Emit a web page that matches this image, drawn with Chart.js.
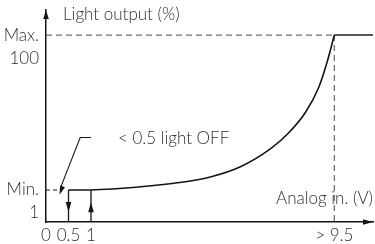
<!DOCTYPE html>
<html>
<head>
<meta charset="utf-8">
<script src="https://cdn.jsdelivr.net/npm/chart.js@4.4.0/dist/chart.umd.min.js"></script>
<style>
html, body { margin: 0; padding: 0; background: #fff; }
#wrap { width: 375px; height: 244px; }
</style>
</head>
<body>
<div id="wrap"><canvas id="chartLuz"></canvas></div>
<script>
// dimming curve: analog input (V) -> light output (%)
var analogVolts = [1, 2, 3.1, 4.3, 5.2, 6.2, 7.3, 7.9, 8.5, 8.96, 9.24, 9.5];
var lightPct = [1, 2, 3.7, 6.3, 9.5, 15.7, 27.8, 37.4, 50.8, 66.8, 82.3, 100];
var xTicks = [0, 0.5, 1, 9.5];
var xTickLabels = ['0', '0.5', '1', '> 9.5'];
var yTicks = [1, 100];
var yTickLabels = [['Min.', '1'], ['Max.', '100']];
var offLimit = 0.5;   // below this the light is off
var onStart = 1;      // curve starts here at min light
var fullOn = 9.5;     // max light from here on
var minLight = 1;
var maxLight = 100;
var xMax = 10.85;
var yMax = 116;

var FONT = 'Lato';
var FSIZE = 17;
var TEXT = '#2e2e2e';
var INK = '#151515';
var DASH = '#707070';

// schematic axes: the first unit is stretched, so a piecewise linear scale
function toDecimal(v, stops) {
  for (var i = 1; i < stops.length; i++) {
    if (v <= stops[i][0] || i === stops.length - 1) {
      var a = stops[i - 1], b = stops[i];
      return a[1] + (v - a[0]) / (b[0] - a[0]) * (b[1] - a[1]);
    }
  }
  return 0;
}
function fromDecimal(d, stops) {
  for (var i = 1; i < stops.length; i++) {
    if (d <= stops[i][1] || i === stops.length - 1) {
      var a = stops[i - 1], b = stops[i];
      return a[0] + (d - a[1]) / (b[1] - a[1]) * (b[0] - a[0]);
    }
  }
  return 0;
}

class PiecewiseScale extends Chart.LinearScale {
  getPixelForValue(value) {
    return this.getPixelForDecimal(toDecimal(value, this.options.stops));
  }
  getValueForPixel(pixel) {
    return fromDecimal(this.getDecimalForPixel(pixel), this.options.stops);
  }
}
PiecewiseScale.id = 'piecewise';
PiecewiseScale.defaults = Chart.LinearScale.defaults;
Chart.register(PiecewiseScale);

function pts(xa, ya) {
  var out = [];
  for (var i = 0; i < xa.length; i++) out.push({ x: xa[i], y: ya[i] });
  return out;
}

function head(ctx, x1, y1, x2, y2, len, hw) {
  var dx = x2 - x1, dy = y2 - y1;
  var d = Math.sqrt(dx * dx + dy * dy) || 1;
  var ux = dx / d, uy = dy / d;
  var bx = x2 - ux * len, by = y2 - uy * len;
  ctx.beginPath();
  ctx.moveTo(x2, y2);
  ctx.lineTo(bx - uy * hw, by + ux * hw);
  ctx.lineTo(bx + uy * hw, by - ux * hw);
  ctx.closePath();
  ctx.fill();
}

var leaderY = 34.5;

var extras = {
  id: 'extras',
  afterDatasetsDraw: function(chart) {
    var ctx = chart.ctx, xs = chart.scales.x, ys = chart.scales.y, a = chart.chartArea;
    ctx.save();
    ctx.fillStyle = INK;
    // axis arrows
    head(ctx, a.left, a.top + 20, a.left, a.top, 9, 2.8);
    head(ctx, a.right - 20, a.bottom, a.right, a.bottom, 10, 2.8);
    // off / on markers
    head(ctx, xs.getPixelForValue(offLimit), ys.getPixelForValue(minLight),
      xs.getPixelForValue(offLimit), ys.getPixelForValue(0.31), 10, 2.8);
    head(ctx, xs.getPixelForValue(onStart), ys.getPixelForValue(0),
      xs.getPixelForValue(onStart), ys.getPixelForValue(0.62), 10, 2.8);
    // leader arrow tip
    head(ctx, xs.getPixelForValue(0.76), ys.getPixelForValue(leaderY),
      xs.getPixelForValue(0.3), ys.getPixelForValue(0.85), 9, 2.6);

    ctx.font = '300 ' + FSIZE + 'px ' + FONT;
    ctx.fillStyle = TEXT;
    ctx.textBaseline = 'middle';
    ctx.textAlign = 'left';
    ctx.fillText('Light output (%)', a.left + 17, a.top + 5);
    ctx.fillText('< 0.5 light OFF', xs.getPixelForValue(1.94), ys.getPixelForValue(leaderY) + 1);
    ctx.textAlign = 'right';
    ctx.fillText('Analog in. (V)', a.right, a.bottom - 23);
    ctx.restore();
  }
};

function line(data, color, width, dash) {
  return {
    data: data,
    borderColor: color,
    borderWidth: width,
    borderDash: dash || [],
    pointRadius: 0,
    fill: false
  };
}

var curve = line(pts(analogVolts, lightPct), INK, 1.6);
curve.cubicInterpolationMode = 'monotone';

new Chart(document.getElementById('chartLuz'), {
  type: 'line',
  data: {
    datasets: [
      curve,
      line([{ x: fullOn, y: maxLight }, { x: xMax, y: maxLight }], '#555', 2),
      line([{ x: 0, y: maxLight }, { x: fullOn, y: maxLight }], DASH, 1.3, [6, 4]),
      line([{ x: fullOn, y: maxLight }, { x: fullOn, y: 0 }], DASH, 1.3, [6, 4]),
      line([{ x: 0, y: minLight }, { x: 0.3, y: minLight }], INK, 1, [4, 3]),
      line([{ x: offLimit, y: minLight }, { x: onStart, y: minLight }], INK, 1.5),
      line([{ x: offLimit, y: minLight }, { x: offLimit, y: 0 }], INK, 1.3),
      line([{ x: onStart, y: minLight }, { x: onStart, y: 0 }], INK, 1.3),
      line([{ x: 1.0, y: leaderY }, { x: 0.76, y: leaderY }, { x: 0.33, y: 3 }], INK, 1.1)
    ]
  },
  options: {
    responsive: true,
    maintainAspectRatio: false,
    animation: false,
    layout: { padding: { top: 10, right: 2, left: 0, bottom: 0 } },
    plugins: { legend: { display: false }, tooltip: { enabled: false } },
    scales: {
      x: {
        type: 'piecewise',
        min: 0, max: xMax,
        stops: [[0, 0], [1, 45 / 327], [xMax, 1]],
        afterBuildTicks: function(s) { s.ticks = xTicks.map(function(v) { return { value: v }; }); },
        afterFit: function(s) { s.height = 22; s.paddingLeft = 0; s.paddingRight = 0; },
        grid: { display: false, drawTicks: false },
        border: { display: true, color: INK, width: 1.5 },
        ticks: {
          autoSkip: false, maxRotation: 0, padding: 3,
          color: TEXT, font: { family: FONT, size: FSIZE, weight: '300' },
          callback: function(v, i) { return xTickLabels[i]; }
        }
      },
      y: {
        type: 'piecewise',
        min: 0, max: yMax,
        stops: [[0, 0], [1, 32 / 212], [yMax, 1]],
        afterBuildTicks: function(s) { s.ticks = yTicks.map(function(v) { return { value: v }; }); },
        afterFit: function(s) { s.width = 46; s.paddingTop = 0; s.paddingBottom = 0; },
        grid: { display: false, drawTicks: false },
        border: { display: true, color: INK, width: 1.5 },
        ticks: {
          autoSkip: false, padding: 7, labelOffset: 11.5,
          color: TEXT, font: { family: FONT, size: FSIZE, weight: '300', lineHeight: 23 / FSIZE },
          callback: function(v, i) { return yTickLabels[i]; }
        }
      }
    }
  },
  plugins: [extras]
});
</script>
</body>
</html>
